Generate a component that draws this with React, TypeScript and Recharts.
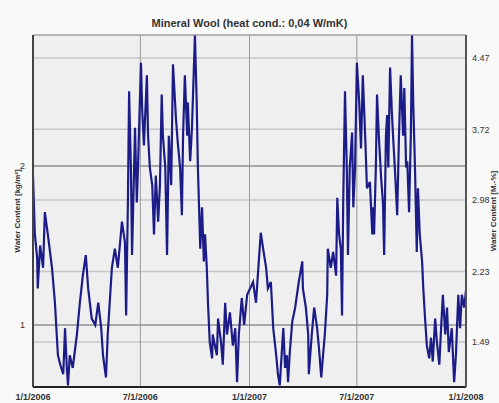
import { LineChart, Line, XAxis, YAxis, ReferenceLine, ReferenceArea } from "recharts";

// days since 1/1/2006
const days = [
  0, 3, 7, 8, 12, 17, 20, 25, 32, 37, 40, 42, 46, 51, 54, 57, 59, 62, 67, 74,
  79, 84, 89, 93, 99, 105, 110, 115, 118, 123, 126, 133, 138, 143, 150, 155, 157, 160, 162, 165,
  167, 172, 175, 177, 182, 184, 187, 192, 194, 197, 201, 204, 207, 211, 214, 217, 219, 223, 226, 229,
  233, 236, 241, 244, 248, 251, 253, 256, 260, 261, 265, 268, 273, 276, 278, 282, 285, 288, 290, 293,
  295, 298, 302, 303, 310, 312, 317, 320, 324, 327, 332, 337, 341, 344, 347, 352, 356, 361, 366, 371,
  376, 379, 384, 388, 393, 396, 401, 405, 410, 413, 416, 422, 425, 428, 430, 433, 437, 442, 445, 448,
  454, 455, 460, 464, 465, 470, 474, 479, 482, 486, 489, 492, 496, 497, 502, 506, 511, 513, 516, 519,
  521, 523, 526, 529, 531, 534, 538, 540, 543, 546, 550, 553, 556, 560, 563, 568, 572, 573, 575, 578,
  580, 583, 587, 590, 592, 595, 597, 599, 602, 605, 607, 610, 614, 617, 620, 624, 626, 629, 631, 634,
  637, 639, 641, 644, 647, 649, 652, 656, 658, 661, 664, 668, 671, 674, 678, 681, 685, 688, 691, 695,
  698, 701, 706, 710, 713, 717, 720, 723, 727, 730,
];

// water content [kg/m³]
const waterContent = [
  1.94, 1.58, 1.42, 1.23, 1.5, 1.36, 1.71, 1.57, 1.36, 1.14, 0.94, 0.81, 0.75, 0.69, 0.98, 0.73, 0.62, 0.81, 0.73, 0.94,
  1.14, 1.31, 1.44, 1.23, 1.04, 1.0, 1.14, 0.98, 0.81, 0.67, 0.94, 1.36, 1.48, 1.36, 1.65, 1.52, 1.06, 1.77, 2.47, 1.99,
  1.44, 2.24, 1.77, 1.99, 2.65, 2.36, 2.13, 2.57, 2.19, 1.99, 1.88, 1.57, 1.94, 1.65, 1.88, 2.45, 2.19, 1.99, 1.44, 2.19,
  1.88, 2.64, 2.3, 2.15, 1.99, 1.69, 2.19, 2.57, 2.19, 2.4, 2.03, 2.24, 2.82, 2.4, 1.99, 1.48, 1.74, 1.4, 1.57, 1.36,
  1.14, 0.89, 0.79, 0.94, 0.81, 1.04, 0.89, 0.75, 1.14, 0.94, 1.08, 0.87, 0.98, 0.64, 0.94, 1.17, 1.0, 1.19, 1.23, 1.27,
  1.14, 1.31, 1.58, 1.48, 1.36, 1.23, 1.27, 0.98, 0.81, 0.69, 0.62, 0.98, 0.73, 0.81, 0.64, 0.83, 1.02, 1.11, 1.19, 1.27,
  1.4, 1.23, 1.11, 0.94, 0.69, 0.94, 1.11, 0.98, 0.86, 0.67, 0.81, 0.94, 1.19, 1.48, 1.36, 1.46, 1.31, 1.8, 1.57, 1.48,
  1.06, 1.77, 2.47, 1.99, 1.44, 1.99, 2.21, 1.74, 1.99, 2.65, 2.4, 2.11, 2.57, 2.19, 1.86, 1.9, 1.57, 1.74, 1.57, 1.99,
  2.45, 2.19, 1.92, 1.77, 1.44, 2.19, 2.32, 1.99, 2.62, 2.34, 2.19, 1.99, 1.69, 2.19, 2.57, 2.19, 2.49, 1.99, 2.03, 1.71,
  2.19, 2.82, 2.4, 1.99, 1.46, 1.86, 1.57, 1.4, 1.23, 1.04, 0.87, 0.79, 0.92, 0.77, 1.04, 0.89, 0.75, 0.98, 1.19, 0.94,
  1.11, 0.83, 0.98, 0.64, 0.81, 1.19, 0.98, 1.19, 1.11, 1.22,
];

const xTicks = [0, 181, 365, 546, 730];
const xTickLabels = ["1/1/2006", "7/1/2006", "1/1/2007", "7/1/2007", "1/1/2008"];
const leftTicks = [1, 2];
const rightTicks = [1.49, 2.23, 2.98, 3.72, 4.47];

const data = days.map((d, i) => ({ day: d, wc: waterContent[i] }));

const FONT = "'Liberation Sans', Arial, sans-serif";

function AxisTitle({ viewBox, text, x }: any) {
  const cy = viewBox.y + viewBox.height / 2;
  return (
    <text
      x={x}
      y={cy}
      transform={`rotate(-90 ${x} ${cy})`}
      textAnchor="middle"
      dominantBaseline="central"
      fontFamily={FONT}
      fontSize={8}
      fontWeight="bold"
      fill="#333"
    >
      {text}
    </text>
  );
}

export default function App() {
  return (
    <div style={{ position: "absolute", left: 0, top: 0, width: 499, height: 403, background: "#f9f9f9", fontFamily: FONT }}>
      <div
        style={{
          position: "absolute",
          top: 17,
          width: 499,
          textAlign: "center",
          fontSize: 11,
          fontWeight: "bold",
          color: "#333",
        }}
      >
        Mineral Wool (heat cond.: 0,04 W/mK)
      </div>
      <LineChart width={499} height={403} data={data} margin={{ top: 35, right: 0, bottom: 0, left: 0 }}>
        <ReferenceArea x1={0} x2={730} y1={0.61} y2={2.824} fill="#efefef" fillOpacity={1} stroke="#777" strokeWidth={1} />
        {rightTicks.map((t) => (
          <ReferenceLine key={t} yAxisId="right" y={t} stroke="#c6c6c6" strokeWidth={1.5} />
        ))}
        {leftTicks.map((t) => (
          <ReferenceLine key={t} y={t} stroke="#a8a8a8" strokeWidth={2} />
        ))}
        {xTicks.slice(1, 4).map((t) => (
          <ReferenceLine key={t} x={t} stroke="#9a9a9a" strokeWidth={1} />
        ))}
        <XAxis
          type="number"
          dataKey="day"
          domain={[0, 730]}
          ticks={xTicks}
          interval={0}
          height={16}
          tickLine={false}
          axisLine={{ stroke: "#222", strokeWidth: 2 }}
          tick={{ fontSize: 9, fontWeight: "bold", fill: "#333", fontFamily: FONT }}
          tickMargin={1}
          tickFormatter={(v: number) => xTickLabels[xTicks.indexOf(v)]}
        />
        <YAxis
          domain={[0.61, 2.824]}
          ticks={leftTicks}
          allowDataOverflow
          width={33}
          tickLine={false}
          axisLine={{ stroke: "#444", strokeWidth: 2 }}
          tick={{ fontSize: 9, fill: "#333", fontFamily: FONT }}
          tickMargin={2}
          label={{ content: (p: any) => <AxisTitle viewBox={p.viewBox} x={17} text="Water Content [kg/m³]" /> }}
        />
        <YAxis
          yAxisId="right"
          orientation="right"
          domain={[1.017, 4.71]}
          ticks={rightTicks}
          allowDataOverflow
          width={33}
          tickLine={false}
          axisLine={{ stroke: "#555", strokeWidth: 2 }}
          tick={{ fontSize: 9, fill: "#333", fontFamily: FONT }}
          tickMargin={0}
          tickFormatter={(v: number) => v.toFixed(2)}
          label={{ content: (p: any) => <AxisTitle viewBox={p.viewBox} x={493} text="Water Content [M.-%]" /> }}
        />
        <Line
          type="linear"
          dataKey="wc"
          stroke="#1c1c88"
          strokeWidth={2.2}
          dot={false}
          isAnimationActive={false}
        />
      </LineChart>
    </div>
  );
}
